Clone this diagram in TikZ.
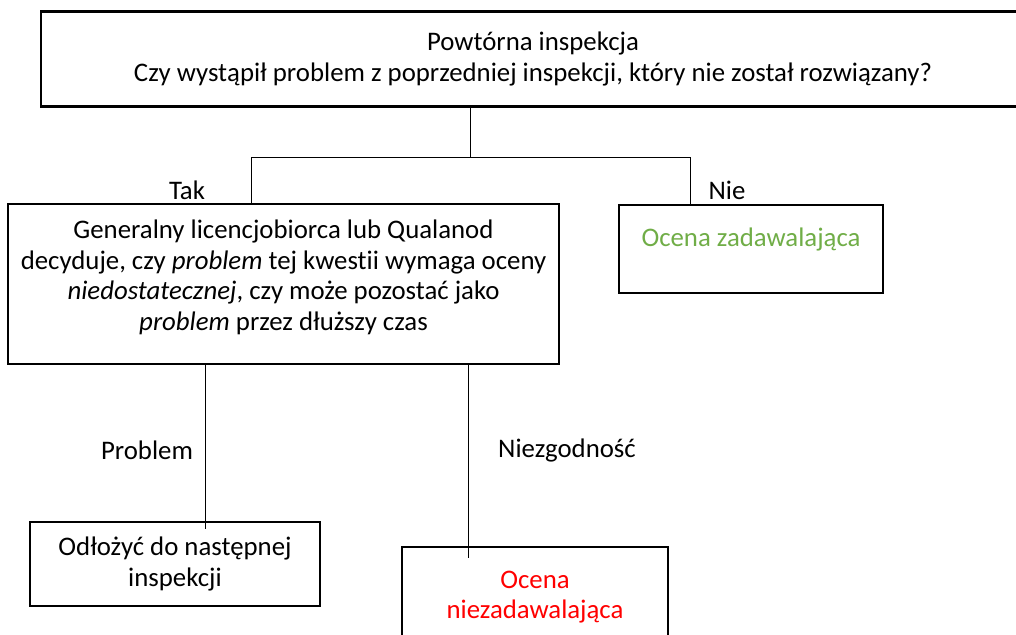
\documentclass[tikz,border=0pt]{standalone}
\usepackage{fontspec}
\setmainfont[Ligatures={NoCommon}]{Carlito}
\definecolor{okgreen}{RGB}{112,173,71}
\definecolor{badred}{RGB}{255,0,0}
\begin{document}
\begin{tikzpicture}[x=1pt,y=-1pt,
  font=\fontsize{26.8}{30.5}\selectfont,
  box/.style={draw, line width=2.6pt, align=center, inner sep=0pt},
  conn/.style={draw, line width=0.9pt},
  lab/.style={inner sep=0pt}]
\useasboundingbox (0,0) rectangle (1016,634);
% boxes
\node[box, minimum width=984, minimum height=95] (top) at (533,59)
  {Powtórna inspekcja\\Czy wystąpił problem z poprzedniej inspekcji, który nie został rozwiązany?};
\node[box, minimum width=551, minimum height=160] (mid) at (283.5,284) {};
\node[align=center, inner sep=0pt] (midtext) at (283.5,277.5)
  {Generalny licencjobiorca lub Qualanod\\decyduje, czy \textit{problem} tej kwestii wymaga oceny\\\textit{niedostatecznej}, czy może pozostać jako\\\textit{problem} przez dłuższy czas};
\node[box, minimum width=264, text height=41pt, text depth=47pt, text=okgreen] (green) at (751,249)
  {Ocena zadawalająca};
\node[box, minimum width=290, minimum height=84] (odl) at (175,564)
  {Odłożyć do następnej\\inspekcji};
\node[box, minimum width=266, minimum height=100, text=badred] (red) at (535,597)
  {Ocena\\niezadawalająca};
% labels
\node[lab] (tak) at (187,190) {Tak};
\node[lab] (nie) at (727,190) {Nie};
\node[lab] (prob) at (147,450) {Problem};
\node[lab] (niez) at (567,450) {Niezgodność};
% connectors
\coordinate (j) at (470,157);
\coordinate (jl) at (251,157);
\coordinate (jr) at (690,157);
\coordinate (pl) at (205,450);
\coordinate (pr) at (468,450);
\draw[conn] (top.south -| j) -- (j);
\draw[conn] (mid.north -| jl) |- (jr) -- (green.north -| jr);
\draw[conn] (mid.south -| pl) -- ([yshift=-8pt]odl.north -| pl);
\draw[conn] (mid.south -| pr) -- ([yshift=-12pt]red.north -| pr);
\end{tikzpicture}
\end{document}
